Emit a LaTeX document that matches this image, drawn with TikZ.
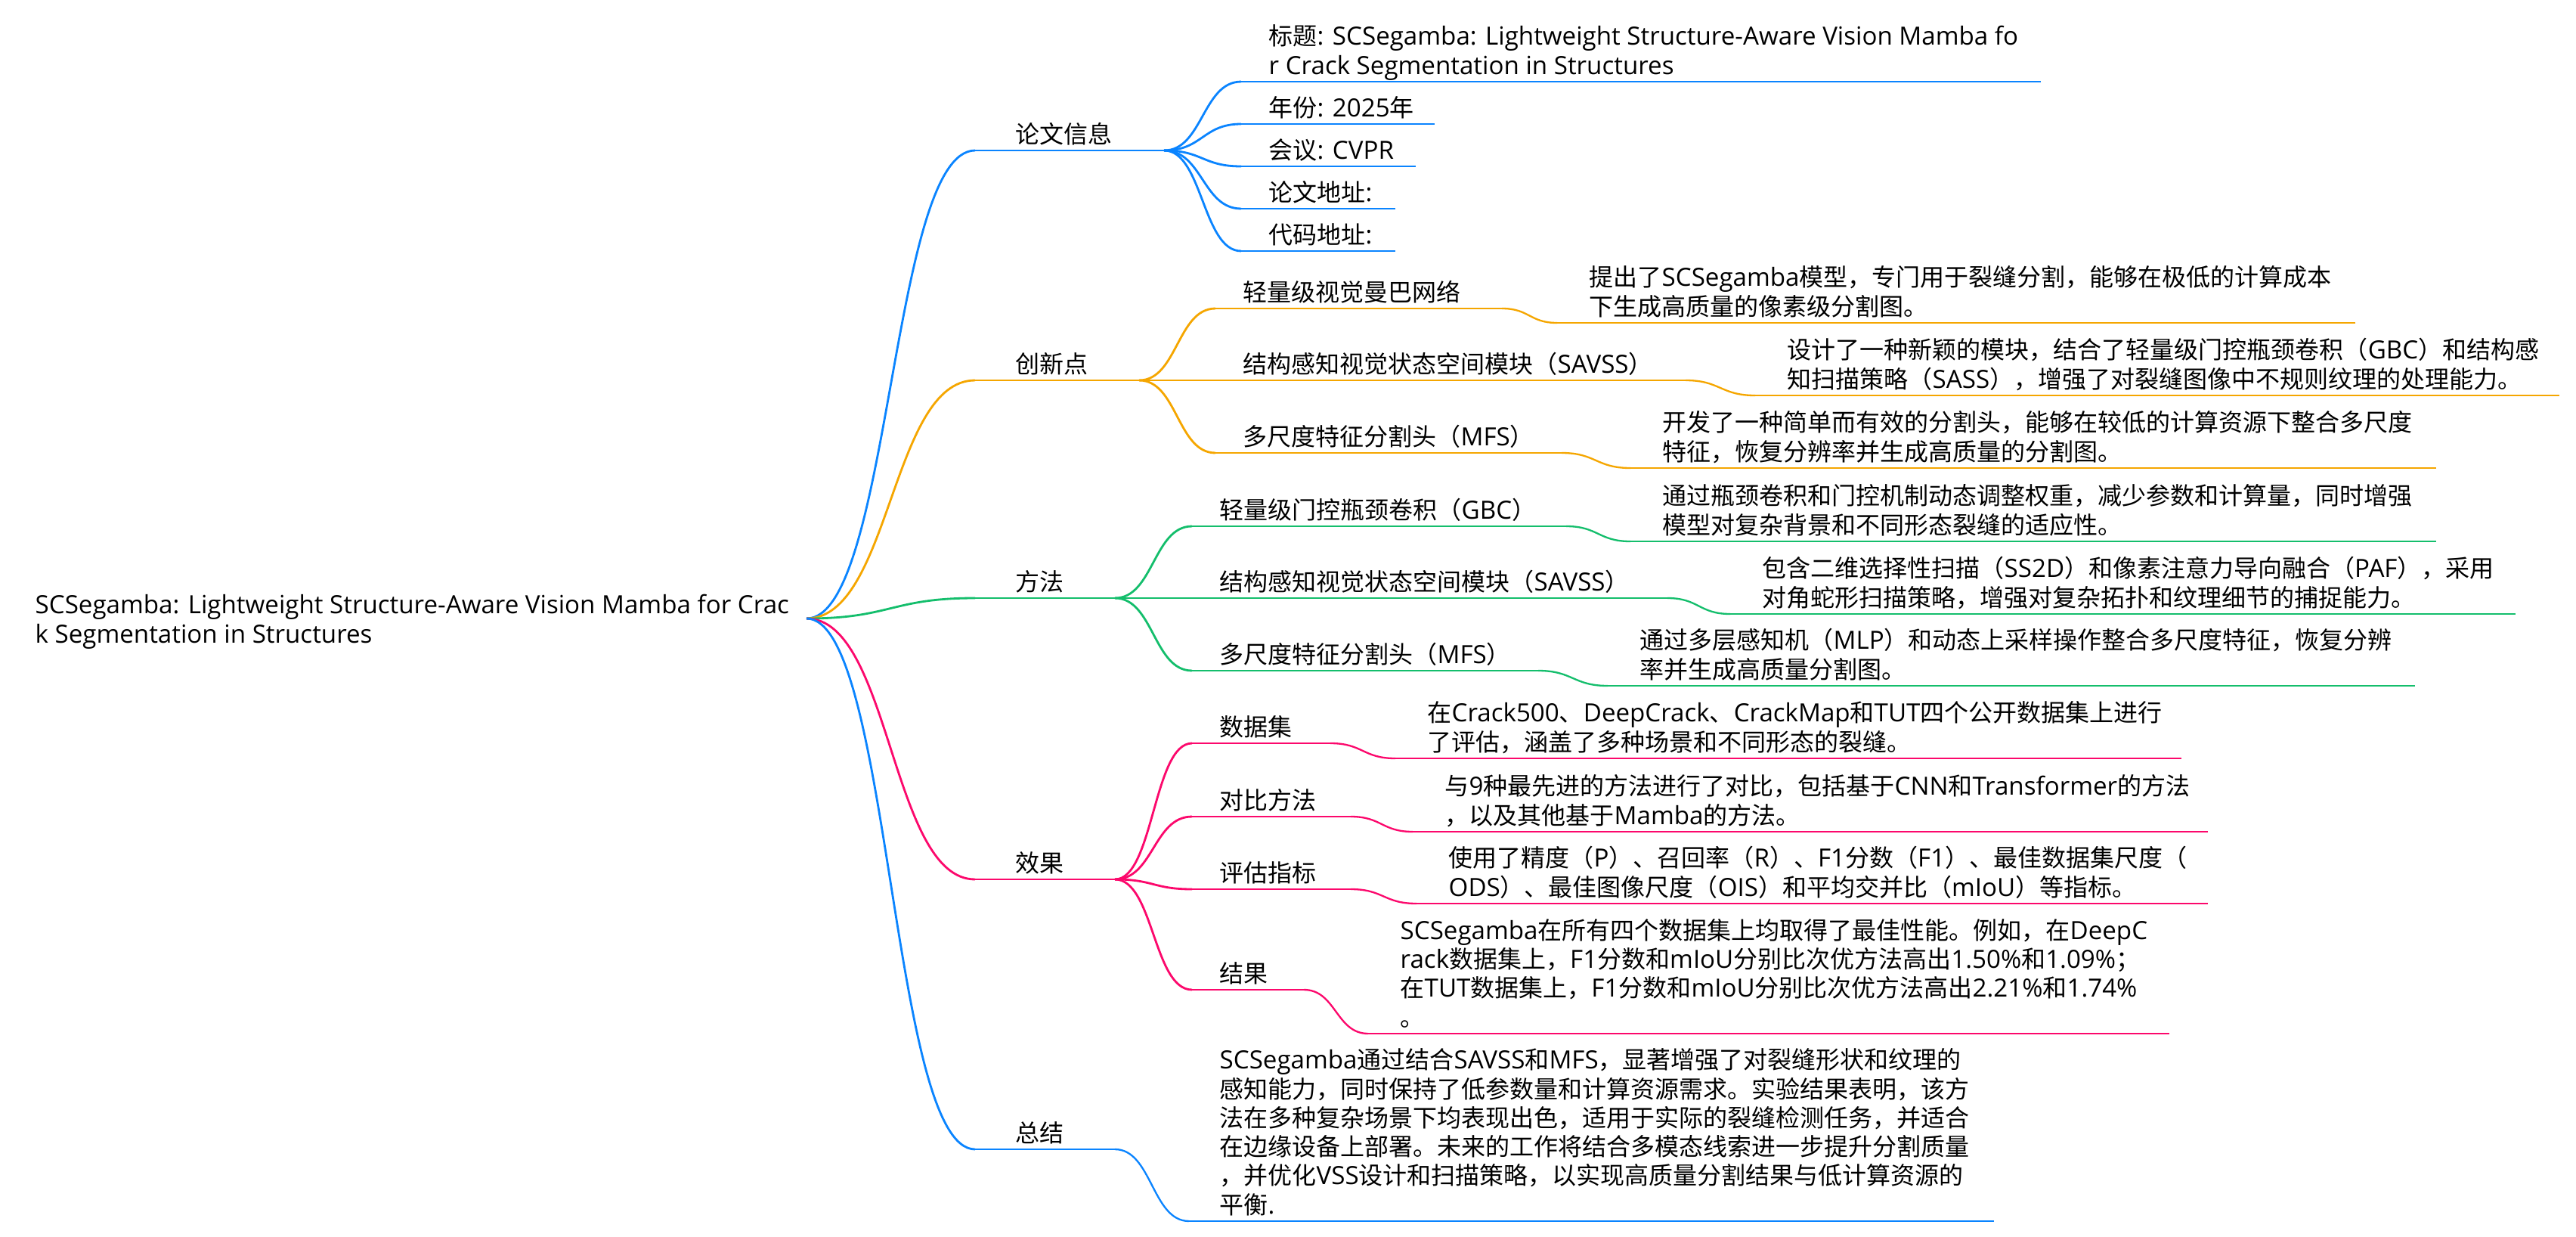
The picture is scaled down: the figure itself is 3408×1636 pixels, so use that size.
\documentclass[tikz,border=0pt]{standalone}
\usepackage{fontspec}
\setmainfont{Open Sans}[Scale=1.035]
\newfontfamily\latinfont{Open Sans}[Scale=1.035]
\newfontfamily\cjkfont{Noto Sans CJK SC}
\usepackage{tikz}
\usetikzlibrary{positioning,calc}
\definecolor{MapBlue}{RGB}{10,132,255}
\definecolor{MapOrange}{RGB}{245,166,0}
\definecolor{MapGreen}{RGB}{20,190,108}
\definecolor{MapPink}{RGB}{252,8,108}
% switch fonts between Latin and CJK characters
\newXeTeXintercharclass\CJKclass
\newcount\cjkpos
\newcommand\cjkrange[2]{\cjkpos=#1\relax
  \loop\XeTeXcharclass\cjkpos=\CJKclass
    \advance\cjkpos by 1\relax
  \ifnum\cjkpos<#2\relax\repeat}
\cjkrange{"3000}{"3040}
\cjkrange{"4E00}{"A000}
\cjkrange{"FF00}{"FFF0}
\XeTeXinterchartokenstate=1
\XeTeXinterchartoks 0 \CJKclass = {\cjkfont}
\XeTeXinterchartoks 4095 \CJKclass = {\cjkfont}
\XeTeXinterchartoks \CJKclass 0 = {\latinfont}
\XeTeXinterchartoks 4095 0 = {\latinfont}
\tikzset{
  topic/.style={anchor=base west,inner sep=0pt,align=left,
    font=\fontsize{9.1pt}{10.87pt}\latinfont},
  branch/.style={line width=0.8pt},
  twig/.style={line width=0.66pt},
}
\newcommand\mmlink[3]{%
  \draw[#1] let \p1=(#2), \p2=(#3) in
    (#2) .. controls ({(\x1+\x2)/2},\y1) and ({(\x1+\x2)/2},\y2) .. (#3);}

\begin{document}
\begin{tikzpicture}[x=0.01cm,y=-0.01cm]
\useasboundingbox (0,0) rectangle (3408,1636);
\fill[white] (0,0) rectangle (3408,1636);
% underlines of the nodes
\foreach \nm/\xa/\xb/\yy/\col in {info/1290/1540/199/MapBlue,innov/1290/1507/503/MapOrange,
  meth/1290/1475/791/MapGreen,eff/1290/1475/1163/MapPink,summ/1290/1475/1520/MapBlue,
  title/1642/2700/108/MapBlue,year/1642/1898/164/MapBlue,conf/1642/1873/220/MapBlue,
  paper/1642/1846/276/MapBlue,code/1642/1846/332/MapBlue,
  lw/1608/1987/408/MapOrange,savss/1608/2230/503/MapOrange,mfs/1608/2066/599/MapOrange,
  gbc/1577/2072/696/MapGreen,savssb/1577/2206/791/MapGreen,mfsb/1577/2035/887/MapGreen,
  data/1577/1760/983/MapPink,comp/1577/1787/1080/MapPink,metric/1577/1787/1176/MapPink,
  res/1577/1725/1309/MapPink}{
  \coordinate (\nm-s) at (\xa,\yy);
  \coordinate (\nm-e) at (\xb,\yy);
  \draw[branch,\col] (\nm-s) -- (\nm-e);
}
\foreach \nm/\xa/\xb/\yy/\col in {lwd/2060/3116/427/MapOrange,savssd/2322/3386/523/MapOrange,
  mfsd/2157/3223/619/MapOrange,gbcd/2157/3223/716/MapGreen,savssbd/2289/3328/812/MapGreen,
  mfsbd/2127/3195/907/MapGreen,datad/1846/2886/1003/MapPink,compd/1869/2921/1100/MapPink,
  metricd/1874/2921/1195/MapPink,resd/1810/2870/1367/MapPink,summd/1573/2638/1615/MapBlue}{
  \coordinate (\nm-s) at (\xa,\yy);
  \coordinate (\nm-e) at (\xb,\yy);
  \draw[twig,\col] (\nm-s) -- (\nm-e);
}
\coordinate (root-e) at (1067,818);
% links
\foreach \src/\dst/\col in {root/info/MapBlue,root/innov/MapOrange,root/meth/MapGreen,
  root/eff/MapPink,root/summ/MapBlue,info/title/MapBlue,info/year/MapBlue,info/conf/MapBlue,
  info/paper/MapBlue,info/code/MapBlue,innov/lw/MapOrange,innov/savss/MapOrange,
  innov/mfs/MapOrange,meth/gbc/MapGreen,meth/savssb/MapGreen,meth/mfsb/MapGreen,
  eff/data/MapPink,eff/comp/MapPink,eff/metric/MapPink,eff/res/MapPink}
  \mmlink{branch,\col}{\src-e}{\dst-s};
\foreach \src/\dst/\col in {lw/lwd/MapOrange,savss/savssd/MapOrange,mfs/mfsd/MapOrange,
  gbc/gbcd/MapGreen,savssb/savssbd/MapGreen,mfsb/mfsbd/MapGreen,data/datad/MapPink,
  comp/compd/MapPink,metric/metricd/MapPink,res/resd/MapPink,summ/summd/MapBlue}
  \mmlink{twig,\col}{\src-e}{\dst-s};
% texts (placed at the baseline of their last line)
\node[topic] (root) at (46,850) {SCSegamba: Lightweight Structure-Aware Vision Mamba for Crac\\k Segmentation in Structures};
\node[topic] (info) at (1343,189) {论文信息};
\node[topic] (innov) at (1343,493) {创新点};
\node[topic] (meth) at (1343,781) {方法};
\node[topic] (eff) at (1343,1153) {效果};
\node[topic] (summ) at (1343,1510) {总结};
\node[topic] (title) at (1678,98) {标题: SCSegamba: Lightweight Structure-Aware Vision Mamba fo\\r Crack Segmentation in Structures};
\node[topic] (year) at (1678,154) {年份: 2025年};
\node[topic] (conf) at (1678,210) {会议: CVPR};
\node[topic] (paper) at (1678,266) {论文地址:};
\node[topic] (code) at (1678,322) {代码地址:};
\node[topic] (lw) at (1644,398) {轻量级视觉曼巴网络};
\node[topic] (savss) at (1644,493) {结构感知视觉状态空间模块（SAVSS）};
\node[topic] (mfs) at (1644,589) {多尺度特征分割头（MFS）};
\node[topic] (lwd) at (2102,417) {提出了SCSegamba模型，专门用于裂缝分割，能够在极低的计算成本\\下生成高质量的像素级分割图。};
\node[topic] (savssd) at (2364,513) {设计了一种新颖的模块，结合了轻量级门控瓶颈卷积（GBC）和结构感\\知扫描策略（SASS），增强了对裂缝图像中不规则纹理的处理能力。};
\node[topic] (mfsd) at (2199,609) {开发了一种简单而有效的分割头，能够在较低的计算资源下整合多尺度\\特征，恢复分辨率并生成高质量的分割图。};
\node[topic] (gbc) at (1613,686) {轻量级门控瓶颈卷积（GBC）};
\node[topic] (savssb) at (1613,781) {结构感知视觉状态空间模块（SAVSS）};
\node[topic] (mfsb) at (1613,877) {多尺度特征分割头（MFS）};
\node[topic] (gbcd) at (2199,706) {通过瓶颈卷积和门控机制动态调整权重，减少参数和计算量，同时增强\\模型对复杂背景和不同形态裂缝的适应性。};
\node[topic] (savssbd) at (2331,802) {包含二维选择性扫描（SS2D）和像素注意力导向融合（PAF），采用\\对角蛇形扫描策略，增强对复杂拓扑和纹理细节的捕捉能力。};
\node[topic] (mfsbd) at (2169,897) {通过多层感知机（MLP）和动态上采样操作整合多尺度特征，恢复分辨\\率并生成高质量分割图。};
\node[topic] (data) at (1613,973) {数据集};
\node[topic] (comp) at (1613,1070) {对比方法};
\node[topic] (metric) at (1613,1166) {评估指标};
\node[topic] (res) at (1613,1299) {结果};
\node[topic] (datad) at (1888,993) {在Crack500、DeepCrack、CrackMap和TUT四个公开数据集上进行\\了评估，涵盖了多种场景和不同形态的裂缝。};
\node[topic] (compd) at (1911,1090) {与9种最先进的方法进行了对比，包括基于CNN和Transformer的方法\\，以及其他基于Mamba的方法。};
\node[topic] (metricd) at (1916,1185) {使用了精度（P）、召回率（R）、F1分数（F1）、最佳数据集尺度（\\ODS）、最佳图像尺度（OIS）和平均交并比（mIoU）等指标。};
\node[topic] (resd) at (1852,1357) {SCSegamba在所有四个数据集上均取得了最佳性能。例如，在DeepC\\rack数据集上，F1分数和mIoU分别比次优方法高出1.50\%和1.09\%；\\在TUT数据集上，F1分数和mIoU分别比次优方法高出2.21\%和1.74\%\\。};
\node[topic] (summd) at (1613,1605) {SCSegamba通过结合SAVSS和MFS，显著增强了对裂缝形状和纹理的\\感知能力，同时保持了低参数量和计算资源需求。实验结果表明，该方\\法在多种复杂场景下均表现出色，适用于实际的裂缝检测任务，并适合\\在边缘设备上部署。未来的工作将结合多模态线索进一步提升分割质量\\，并优化VSS设计和扫描策略，以实现高质量分割结果与低计算资源的\\平衡.};
\end{tikzpicture}
\end{document}
